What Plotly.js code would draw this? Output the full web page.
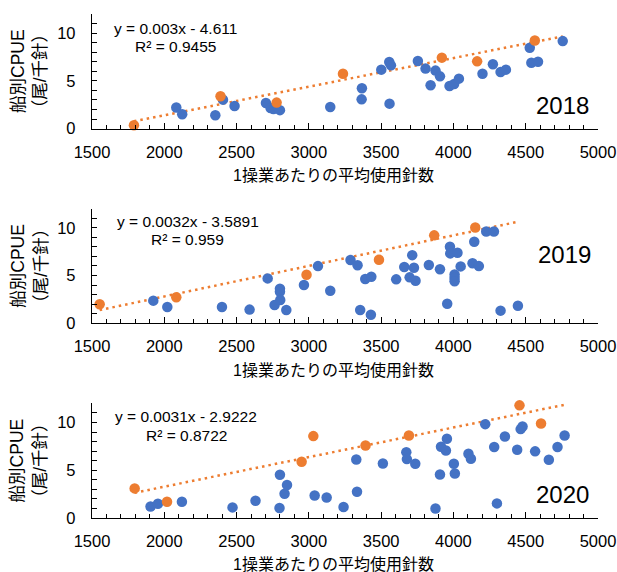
<!DOCTYPE html>
<html>
<head>
<meta charset="utf-8">
<script src="https://cdn.plot.ly/plotly-3.0.1.min.js"></script>
<style>html,body{margin:0;padding:0;background:#fff}#chart{width:617px;height:572px}</style>
</head>
<body>
<div id="chart"></div>
<script>
// ---- Data ----
const years = ["2018", "2019", "2020"];

const blue2018X = [2083, 2124, 2353, 2406, 2486, 2703, 2735, 2755, 2800, 3148, 3365, 3367, 3501, 3556, 3568, 3558, 3754, 3807, 3842, 3876, 3907, 3973, 4005, 4038, 4201, 4273, 4326, 4363, 4528, 4539, 4585, 4756];
const blue2018Y = [2.20, 1.50, 1.39, 3.03, 2.37, 2.68, 2.16, 2.05, 1.93, 2.26, 3.06, 4.22, 6.17, 6.97, 6.62, 2.61, 7.07, 6.28, 4.53, 6.07, 5.47, 4.46, 4.67, 5.23, 5.75, 6.73, 5.92, 6.17, 8.47, 6.90, 7.00, 9.16];
const orange2018X = [1790, 2389, 2777, 3236, 3920, 4164, 4563];
const orange2018Y = [0.35, 3.38, 2.72, 5.75, 7.43, 7.04, 9.23];

const blue2019X = [1924, 2021, 2399, 2590, 2715, 2763, 2800, 2800, 2802, 2844, 2966, 3063, 3148, 3288, 3337, 3355, 3390, 3432, 3429, 3604, 3660, 3697, 3715, 3727, 3738, 3830, 3907, 3957, 3976, 3978, 4028, 4008, 4008, 4008, 4050, 4144, 4132, 4176, 4227, 4280, 4326, 4446];
const blue2019Y = [2.37, 1.71, 1.71, 1.43, 4.70, 1.91, 3.62, 3.31, 2.44, 1.39, 4.01, 5.99, 3.41, 6.62, 6.07, 1.39, 4.63, 4.88, 0.90, 4.60, 5.89, 4.81, 7.14, 5.82, 4.46, 6.10, 5.65, 2.05, 8.01, 7.32, 7.39, 5.10, 4.75, 4.40, 5.96, 8.54, 6.28, 5.99, 9.62, 9.62, 1.32, 1.83];
const orange2019X = [1553, 2083, 2984, 3485, 3867, 4151];
const orange2019Y = [1.99, 2.72, 5.09, 6.65, 9.21, 10.04];

const blue2020X = [1905, 1956, 2122, 2472, 2631, 2800, 2797, 2832, 2849, 3040, 3123, 3240, 3328, 3333, 3512, 3674, 3678, 3736, 3876, 3907, 3914, 3948, 3955, 4003, 4010, 4104, 4121, 4220, 4282, 4301, 4356, 4441, 4465, 4478, 4565, 4660, 4720, 4769];
const blue2020Y = [1.21, 1.50, 1.71, 1.11, 1.81, 4.53, 1.05, 2.54, 3.46, 2.36, 2.15, 1.15, 6.13, 2.75, 5.71, 6.90, 6.17, 5.68, 1.00, 4.56, 7.46, 7.07, 8.30, 5.68, 4.67, 6.73, 6.20, 9.83, 7.43, 1.53, 8.54, 7.15, 9.31, 9.58, 6.98, 6.11, 7.43, 8.65];
const orange2020X = [1795, 2019, 2950, 3031, 3392, 3692, 4457, 4606];
const orange2020Y = [3.10, 1.71, 5.89, 8.58, 7.59, 8.64, 11.8, 9.90];

const trendSlope = [0.003, 0.0032, 0.0031];
const trendIntercept = [-4.611, -3.5891, -2.9222];
const equationText = ["y = 0.003x - 4.611", "y = 0.0032x - 3.5891", "y = 0.0031x - 2.9222"];
const r2Text = ["R² = 0.9455", "R² = 0.959", "R² = 0.8722"];

const xTitle = "1操業あたりの平均使用針数";
const yTitle = "船別CPUE<br>（尾/千針）";

// ---- Build ----
const blueX = [blue2018X, blue2019X, blue2020X];
const blueY = [blue2018Y, blue2019Y, blue2020Y];
const orangeX = [orange2018X, orange2019X, orange2020X];
const orangeY = [orange2018Y, orange2019Y, orange2020Y];

const BLUE = "#4472C4", ORANGE = "#ED7D31";
const FONT = "Liberation Sans, Arial, Noto Sans CJK JP, sans-serif";
const traces = [];
const suffix = ["", "2", "3"];

for (let i = 0; i < 3; i++) {
  const xa = "x" + suffix[i], ya = "y" + suffix[i];
  const allX = blueX[i].concat(orangeX[i]);
  const x0 = Math.min(...allX), x1 = Math.max(...allX);
  traces.push({
    x: [x0, x1], y: [trendSlope[i] * x0 + trendIntercept[i], trendSlope[i] * x1 + trendIntercept[i]],
    xaxis: xa, yaxis: ya, mode: "lines", hoverinfo: "skip", cliponaxis: false,
    line: {color: ORANGE, width: 2.5, dash: "2.5px,4px"}
  });
  traces.push({
    x: blueX[i], y: blueY[i], xaxis: xa, yaxis: ya, mode: "markers", cliponaxis: false,
    marker: {color: BLUE, size: 10.5, line: {width: 0}}
  });
  traces.push({
    x: orangeX[i], y: orangeY[i], xaxis: xa, yaxis: ya, mode: "markers", cliponaxis: false,
    marker: {color: ORANGE, size: 10.5, line: {width: 0}}
  });
}

const domains = [[0.7727, 1], [0.3864, 0.6136], [0, 0.2273]];
const layout = {
  width: 617, height: 572,
  margin: {l: 91.7, r: 19.2, t: 13.6, b: 53.7},
  paper_bgcolor: "#fff", plot_bgcolor: "#fff",
  showlegend: false,
  font: {family: FONT, color: "#000", size: 16},
  annotations: []
};

for (let i = 0; i < 3; i++) {
  const xk = "xaxis" + suffix[i], yk = "yaxis" + suffix[i];
  layout[xk] = {
    domain: [0, 1], anchor: "y" + suffix[i], range: [1500, 5000],
    tick0: 1500, dtick: 500, ticks: "inside", ticklen: 6, tickwidth: 1, tickcolor: "#000",
    minor: {dtick: 100, ticks: "inside", ticklen: 4, tickwidth: 1, tickcolor: "#000", showgrid: false},
    showline: true, linecolor: "#000", linewidth: 1.2, showgrid: false, zeroline: false,
    tickfont: {family: FONT, size: 16.5, color: "#000"}, ticklabelstandoff: 8
  };
  layout[yk] = {
    domain: domains[i], anchor: "x" + suffix[i], range: [0, 12],
    tick0: 0, dtick: 5, ticks: "inside", ticklen: 5, tickwidth: 1, tickcolor: "#000",
    minor: {dtick: 1, ticks: "inside", ticklen: 5, tickwidth: 1, tickcolor: "#000", showgrid: false},
    showline: true, linecolor: "#000", linewidth: 1.2, showgrid: false, zeroline: false,
    tickfont: {family: FONT, size: 16.5, color: "#000"}, ticklabelstandoff: 12
  };
  const xr = "x" + suffix[i], yr = "y" + suffix[i];
  const eqPos = [[2076, 10.45, 8.64], [2163, 10.63, 8.82], [2152, 10.63, 8.64]][i];
  layout.annotations.push({xref: xr, yref: yr, x: eqPos[0], y: eqPos[1], text: equationText[i],
    showarrow: false, xanchor: "center", yanchor: "middle", font: {family: FONT, size: 15.5, color: "#000"}});
  layout.annotations.push({xref: xr, yref: yr, x: eqPos[0], y: eqPos[2], text: r2Text[i],
    showarrow: false, xanchor: "center", yanchor: "middle", font: {family: FONT, size: 15.5, color: "#000"}});
  const yrPos = [[4757, 2.4], [4766, 7.2], [4752, 2.45]][i];
  layout.annotations.push({xref: xr, yref: yr, x: yrPos[0], y: yrPos[1], text: years[i],
    showarrow: false, xanchor: "center", yanchor: "middle", font: {family: FONT, size: 24, color: "#000"}});
  // axis titles
  const axisBottomPx = [128.3, 323.3, 518.3][i];
  const panelMidPx = [71, 266, 461][i];
  layout.annotations.push({xref: "paper", yref: "paper", x: (332.8 - 91.7) / 506.1,
    y: (518.3 - (axisBottomPx + 47)) / 504.7, text: xTitle, showarrow: false,
    xanchor: "center", yanchor: "middle", font: {family: FONT, size: 16, color: "#000"}});
  layout.annotations.push({xref: "paper", yref: "paper", x: (28.7 - 91.7) / 506.1,
    y: (518.3 - panelMidPx) / 504.7, text: yTitle, showarrow: false, textangle: -90,
    xanchor: "center", yanchor: "middle", font: {family: FONT, size: 17.5, color: "#000"}});
}

Plotly.newPlot("chart", traces, layout, {displayModeBar: false, staticPlot: true});
</script>
</body>
</html>
